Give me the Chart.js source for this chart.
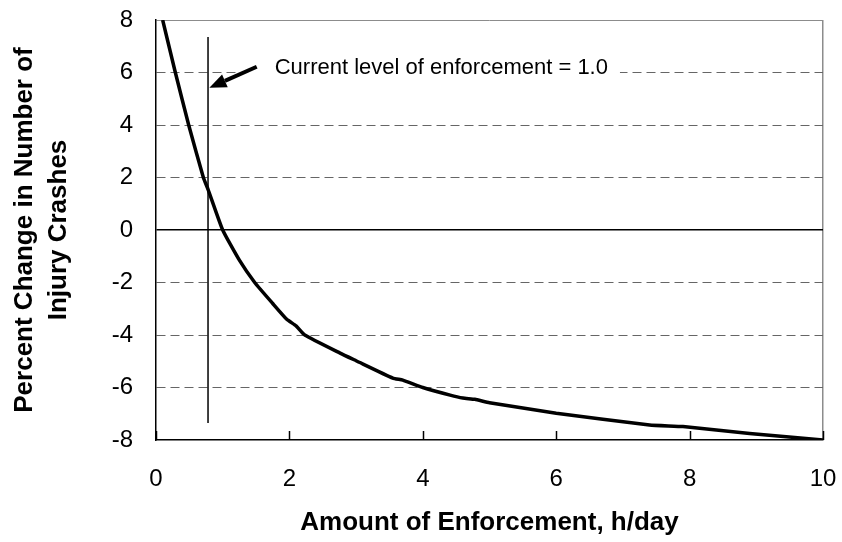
<!DOCTYPE html>
<html>
<head>
<meta charset="utf-8">
<script src="https://cdn.jsdelivr.net/npm/chart.js@4.4.0/dist/chart.umd.min.js"></script>
<style>
  html, body { margin: 0; padding: 0; background: #fff; }
</style>
</head>
<body>
<canvas id="chart" width="842" height="542"></canvas>
<script>
// === Data ===
const enforcementHours = [0.1, 0.29, 0.49, 0.71, 0.78, 1.0, 1.25, 1.48, 1.75, 1.96, 2.1, 2.23, 2.76, 3.0, 3.55, 3.7, 4.0, 4.41, 4.6, 4.78, 5.0, 6.0, 7.4, 7.9, 8.9, 10.0];
const crashChange = [8.0, 6.0, 4.0, 2.0, 1.55, 0.0, -1.15, -2.0, -2.8, -3.4, -3.65, -4.0, -4.69, -4.98, -5.64, -5.72, -6.0, -6.29, -6.4, -6.45, -6.58, -6.98, -7.43, -7.49, -7.75, -8.0];
const xTicks = [0, 2, 4, 6, 8, 10];
const yTicks = [8, 6, 4, 2, 0, -2, -4, -6, -8];

// current level marker + note (in data units)
const markerX = [0.78, 0.78];
const markerY = [-7.35, 7.35];
const arrowFrom = [1.51, 6.22];
const arrowTo = [0.8, 5.42];
const noteAt = [1.78, 6.17];
const noteText = "Current level of enforcement = 1.0";

const FONT = "'Liberation Sans', Arial, Helvetica, sans-serif";

const curvePoints = enforcementHours.map((x, i) => ({ x: x, y: crashChange[i] }));
const markerPoints = markerX.map((x, i) => ({ x: x, y: markerY[i] }));

// === Plugin: note box, arrow, inner x tick marks ===
const extras = {
  id: "extras",
  beforeDatasetsDraw(chart) {
    const { ctx, scales: { x, y } } = chart;
    const px = x.getPixelForValue(noteAt[0]);
    const py = y.getPixelForValue(noteAt[1]);
    ctx.save();
    ctx.font = "22px " + FONT;
    const w = ctx.measureText(noteText).width;
    ctx.fillStyle = "#fff";
    ctx.fillRect(px - 30, py - 14, w + 42, 28);
    ctx.fillStyle = "#000";
    ctx.textBaseline = "middle";
    ctx.textAlign = "left";
    ctx.fillText(noteText, px, py);
    ctx.restore();
  },
  afterDatasetsDraw(chart) {
    const { ctx, scales: { x, y }, chartArea } = chart;
    ctx.save();
    // arrow
    const x1 = x.getPixelForValue(arrowFrom[0]);
    const y1 = y.getPixelForValue(arrowFrom[1]);
    const x2 = x.getPixelForValue(arrowTo[0]);
    const y2 = y.getPixelForValue(arrowTo[1]);
    const ang = Math.atan2(y2 - y1, x2 - x1);
    const headLen = 17, headW = 7;
    const bx = x2 - headLen * Math.cos(ang);
    const by = y2 - headLen * Math.sin(ang);
    ctx.strokeStyle = "#000";
    ctx.lineWidth = 4;
    ctx.beginPath();
    ctx.moveTo(x1, y1);
    ctx.lineTo(bx, by);
    ctx.stroke();
    ctx.fillStyle = "#000";
    ctx.beginPath();
    ctx.moveTo(x2, y2);
    ctx.lineTo(bx + headW * Math.sin(ang), by - headW * Math.cos(ang));
    ctx.lineTo(bx - headW * Math.sin(ang), by + headW * Math.cos(ang));
    ctx.closePath();
    ctx.fill();
    // tick marks pointing into the plot
    ctx.lineWidth = 1.5;
    xTicks.forEach((v) => {
      const tx = Math.round(x.getPixelForValue(v)) + 0.5;
      ctx.beginPath();
      ctx.moveTo(tx, chartArea.bottom);
      ctx.lineTo(tx, chartArea.bottom - 9);
      ctx.stroke();
    });
    ctx.restore();
  },
};

// === Chart ===
new Chart(document.getElementById("chart"), {
  type: "scatter",
  data: {
    datasets: [
      {
        data: curvePoints,
        showLine: true,
        borderColor: "#000",
        borderWidth: 3.5,
        pointRadius: 0,
        tension: 0.15,
      },
      {
        data: markerPoints,
        showLine: true,
        borderColor: "#000",
        borderWidth: 1.5,
        pointRadius: 0,
      },
    ],
  },
  options: {
    responsive: false,
    animation: false,
    layout: { padding: { top: 20, right: 19, bottom: 0, left: 0 } },
    plugins: {
      legend: { display: false },
      tooltip: { enabled: false },
    },
    scales: {
      x: {
        type: "linear",
        min: 0,
        max: 10,
        afterBuildTicks: (s) => { s.ticks = xTicks.map((v) => ({ value: v })); },
        afterFit: (s) => {
          s.height = 102;
          s.paddingLeft = 0;
          s.paddingRight = 0;
        },
        grid: {
          drawTicks: false,
          lineWidth: 1.5,
          color: (c) => (c.tick && c.tick.value === 10 ? "#8c8c8c" : "rgba(0,0,0,0)"),
        },
        border: { color: "#000", width: 1.5 },
        ticks: {
          padding: 25,
          color: "#000",
          maxRotation: 0,
          autoSkip: false,
          font: { family: FONT, size: 24 },
        },
        title: {
          display: true,
          text: "Amount of Enforcement, h/day",
          color: "#000",
          font: { family: FONT, size: 26, weight: "bold" },
          padding: { top: 0, bottom: 4 },
        },
      },
      y: {
        min: -8,
        max: 8,
        afterBuildTicks: (s) => { s.ticks = yTicks.map((v) => ({ value: v })); },
        afterFit: (s) => {
          s.width = 156;
          s.paddingTop = 0;
          s.paddingBottom = 0;
        },
        grid: {
          drawTicks: false,
          lineWidth: (c) => (c.tick && c.tick.value === 0 ? 1.5 : 1),
          color: (c) => {
            if (!c.tick) return "#000";
            if (c.tick.value === 0) return "#000";
            if (c.tick.value === 8) return "#8c8c8c";
            if (c.tick.value === -8) return "rgba(0,0,0,0)";
            return "#666";
          },
        },
        border: {
          color: "#000",
          width: 1.5,
          dash: (c) => (c.tick && c.tick.value !== 0 && c.tick.value !== 8 ? [9, 5] : []),
        },
        ticks: {
          padding: 23,
          color: "#000",
          autoSkip: false,
          font: { family: FONT, size: 24 },
        },
        title: {
          display: true,
          text: ["Percent Change in Number of", "Injury Crashes"],
          color: "#000",
          font: { family: FONT, size: 26, weight: "bold", lineHeight: 1.3 },
          padding: { top: 8, bottom: 0 },
        },
      },
    },
  },
  plugins: [extras],
});
</script>
</body>
</html>
